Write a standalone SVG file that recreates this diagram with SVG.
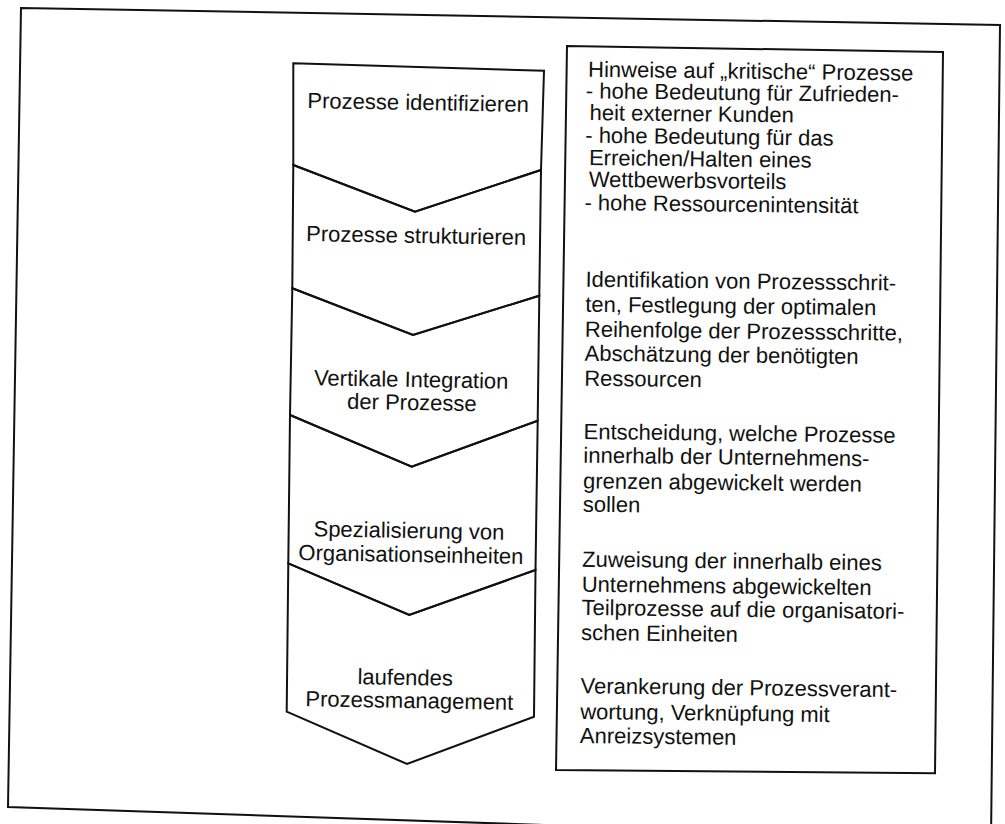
<svg xmlns="http://www.w3.org/2000/svg" width="1005" height="824" viewBox="0 0 1005 824">
  <style>
    .frame { fill: none; stroke: #111; stroke-width: 2; stroke-linejoin: miter; }
    .step { fill: none; stroke: #111; stroke-width: 2; stroke-linejoin: miter; }
    .lbl { font-family: "Liberation Sans", Arial, sans-serif; font-size: 22px; fill: #111; }
    .mid { text-anchor: middle; }
  </style>
  <rect width="1005" height="824" fill="#fff"/>

  <!-- outer border (scanned page, slightly skewed) -->
  <polygon id="border" class="frame" points="21,8 1000,25 991,840 8,807"/>

  <!-- process phases as chevron steps -->
  <g id="phase1">
    <polygon class="step" points="293.3,63.3 544,70.7 541,170 415,211.7 293.3,165"/>
    <text class="lbl mid" x="418" y="110" transform="rotate(1 418 110)">Prozesse identifizieren</text>
  </g>
  <g id="phase2">
    <polygon class="step" points="293.3,165 415,211.7 541,170 539.3,295.7 413,335 292.3,288.3"/>
    <text class="lbl mid" x="416" y="243" transform="rotate(1 416 243)">Prozesse strukturieren</text>
  </g>
  <g id="phase3">
    <polygon class="step" points="292.3,288.3 413,335 539.3,295.7 537.7,420.7 411.7,466.7 290,415"/>
    <text class="lbl mid" transform="rotate(1 413 398)">
      <tspan x="414" y="387">Vertikale Integration</tspan>
      <tspan x="412" y="410">der Prozesse</tspan>
    </text>
  </g>
  <g id="phase4">
    <polygon class="step" points="290,415 411.7,466.7 537.7,420.7 535.5,570 409.3,615 288.3,563.3"/>
    <text class="lbl mid" transform="rotate(1 411 550)">
      <tspan x="411.7" y="538">Spezialisierung von</tspan>
      <tspan x="411" y="562">Organisationseinheiten</tspan>
    </text>
  </g>
  <g id="phase5">
    <polygon class="step" points="288.3,563.3 409.3,615 535.5,570 534,716.7 407,764 286.7,711.7"/>
    <text class="lbl mid" transform="rotate(1 409 696)">
      <tspan x="408" y="685">laufendes</tspan>
      <tspan x="409.5" y="708">Prozessmanagement</tspan>
    </text>
  </g>

  <!-- description panel -->
  <g id="descriptions">
    <polygon class="frame" points="567,46 943,52 935,773.3 556,770"/>
    <g transform="rotate(0.7 588 77)">
      <text class="lbl">
        <tspan x="588" y="76.7">Hinweise auf „kritische“ Prozesse</tspan>
        <tspan x="586" y="98.3">- hohe Bedeutung für Zufrieden-</tspan>
        <tspan x="590" y="120">heit externer Kunden</tspan>
        <tspan x="586" y="142.7">- hohe Bedeutung für das</tspan>
        <tspan x="590" y="165">Erreichen/Halten eines</tspan>
        <tspan x="590" y="186.7">Wettbewerbsvorteils</tspan>
        <tspan x="586" y="210">- hohe Ressourcenintensität</tspan>
      </text>
      <text class="lbl">
        <tspan x="588" y="286.7">Identifikation von Prozessschrit-</tspan>
        <tspan x="588" y="311.7">ten, Festlegung der optimalen</tspan>
        <tspan x="588" y="336.7">Reihenfolge der Prozessschritte,</tspan>
        <tspan x="588" y="360.7">Abschätzung der benötigten</tspan>
        <tspan x="588" y="385.7">Ressourcen</tspan>
      </text>
      <text class="lbl">
        <tspan x="588" y="439">Entscheidung, welche Prozesse</tspan>
        <tspan x="588" y="462.7">innerhalb der Unternehmens-</tspan>
        <tspan x="588" y="488.3">grenzen abgewickelt werden</tspan>
        <tspan x="588" y="511.7">sollen</tspan>
      </text>
      <text class="lbl">
        <tspan x="588" y="566.7">Zuweisung der innerhalb eines</tspan>
        <tspan x="588" y="591.7">Unternehmens abgewickelten</tspan>
        <tspan x="588" y="615">Teilprozesse auf die organisatori-</tspan>
        <tspan x="588" y="640">schen Einheiten</tspan>
      </text>
      <text class="lbl">
        <tspan x="588" y="693.3">Verankerung der Prozessverant-</tspan>
        <tspan x="588" y="719">wortung, Verknüpfung mit</tspan>
        <tspan x="588" y="743">Anreizsystemen</tspan>
      </text>
    </g>
  </g>
</svg>
